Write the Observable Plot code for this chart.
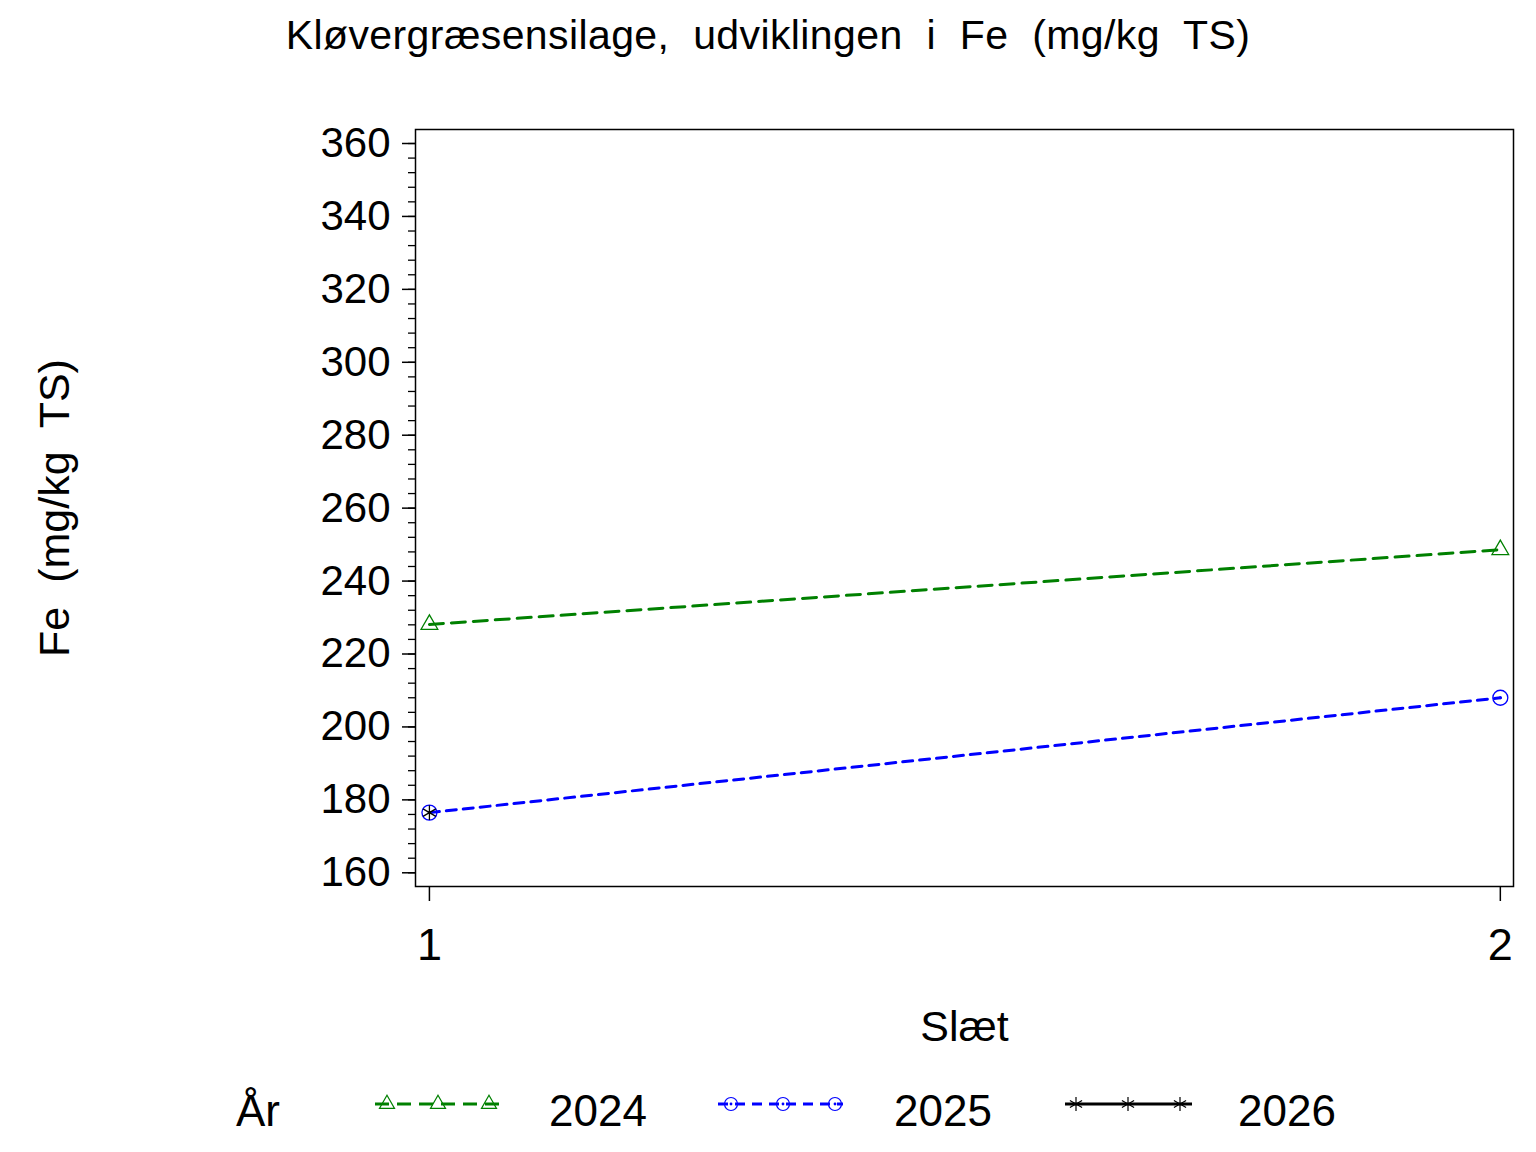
<!DOCTYPE html>
<html>
<head>
<meta charset="utf-8">
<script src="https://cdn.jsdelivr.net/npm/d3@7"></script>
<script src="https://cdn.jsdelivr.net/npm/@observablehq/plot@0.6"></script>
<style>
  html, body { margin: 0; padding: 0; background: white; }
  #wrap { position: relative; width: 1536px; height: 1152px; font-family: "Liberation Sans", Arial, sans-serif; }
  #title { position: absolute; top: 15px; left: 0; width: 1536px; text-align: center; font-size: 41px; line-height: 1; word-spacing: 12px; letter-spacing: 0.4px; color: black; white-space: nowrap; }
  #chart { position: absolute; top: 80px; left: 0; }
  #legend { position: absolute; top: 1060px; left: 0; }
</style>
</head>
<body>
<div id="wrap">
  <div id="title">Kløvergræsensilage, udviklingen i Fe (mg/kg TS)</div>
  <div id="chart"></div>
  <div id="legend"></div>
</div>
<script>
// ---- data ----
const slaet = [1, 2];
const years = ["2024", "2025", "2026"];
const fe2024 = [228.1, 248.6];
const fe2025 = [176.5, 208.0];
const fe2026 = [176.5];
const yTicks = [160, 180, 200, 220, 240, 260, 280, 300, 320, 340, 360];
const yMinorTicks = d3.range(160, 361, 4);
const xTicks = [1, 2];
const yLabel = "Fe\u00a0 (mg/kg\u00a0 TS)";
const xLabel = "Slæt";
const legendTitle = "År";

const colors = {"2024": "#008000", "2025": "#0000ff", "2026": "#000000"};

const toRows = (year, vals) => vals.map((v, i) => ({year, slaet: slaet[i], fe: v}));
const r2024 = toRows("2024", fe2024);
const r2025 = toRows("2025", fe2025);
const r2026 = toRows("2026", fe2026);

const chart = Plot.plot({
  width: 1536,
  height: 990,
  marginTop: 49,
  marginBottom: 184,
  marginLeft: 415,
  marginRight: 23,
  style: {fontFamily: "Liberation Sans, Arial, sans-serif", background: "white", color: "black"},
  x: {type: "linear", domain: [0.987, 2.0123]},
  y: {domain: [156.24, 363.84]},
  marks: [
    Plot.frame({stroke: "black", strokeWidth: 1.5}),
    Plot.axisY({ticks: yMinorTicks, tickSize: 7, text: null, label: null, strokeWidth: 1.3}),
    Plot.axisY({ticks: yTicks, tickSize: 13, tickPadding: 12, fontSize: 42, label: null, strokeWidth: 1.5, tickFormat: d => String(d)}),
    Plot.axisX({ticks: xTicks, tickSize: 15, tickPadding: 27, fontSize: 45, label: null, strokeWidth: 1.5, tickFormat: d => String(d)}),
    Plot.line(r2024, {x: "slaet", y: "fe", stroke: colors["2024"], strokeWidth: 3, strokeDasharray: "14,8"}),
    Plot.line(r2025, {x: "slaet", y: "fe", stroke: colors["2025"], strokeWidth: 3, strokeDasharray: "10,7"}),
    Plot.line(r2026, {x: "slaet", y: "fe", stroke: colors["2026"], strokeWidth: 3}),
    Plot.dot(r2024, {x: "slaet", y: "fe", symbol: "triangle", r: 6.2, stroke: colors["2024"], strokeWidth: 1.3}),
    Plot.dot(r2025, {x: "slaet", y: "fe", symbol: "circle", r: 7.5, stroke: colors["2025"], strokeWidth: 1.3}),
    Plot.dot(r2025, {x: "slaet", y: "fe", r: 1.5, fill: colors["2025"], stroke: null}),
    Plot.dot(r2026, {x: "slaet", y: "fe", symbol: "asterisk", r: 7, stroke: colors["2026"], strokeWidth: 1.3}),
    Plot.text([yLabel], {frameAnchor: "left", textAnchor: "middle", rotate: -90, dx: -360, fontSize: 43, fill: "black"}),
    Plot.text([xLabel], {frameAnchor: "bottom", textAnchor: "middle", dy: 154, fontSize: 43, fill: "black"})
  ]
});
document.getElementById("chart").appendChild(chart);

// ---- legend ----
const legendSpec = [
  {year: "2024", x0: 375, x1: 505, marks: [387, 438, 489], textX: 549, symbol: d3.symbolTriangle, size: 98, dash: "14,8"},
  {year: "2025", x0: 718, x1: 843, marks: [731, 783, 835], textX: 894, symbol: d3.symbolCircle, size: Math.PI * 6.5 * 6.5, dash: "10,7"},
  {year: "2026", x0: 1065, x1: 1192, marks: [1076, 1128, 1180], textX: 1238, symbol: d3.symbolAsterisk, size: 139, dash: null}
];
const lg = d3.select("#legend").append("svg").attr("width", 1536).attr("height", 92)
  .style("font-family", "Liberation Sans, Arial, sans-serif");
const ly = 44, lb = 66;
lg.append("text").attr("x", 236).attr("y", lb).attr("font-size", 44).text(legendTitle);
for (const s of legendSpec) {
  const c = colors[s.year];
  lg.append("line").attr("x1", s.x0).attr("x2", s.x1).attr("y1", ly).attr("y2", ly)
    .attr("stroke", c).attr("stroke-width", 3).attr("stroke-dasharray", s.dash);
  for (const mx of s.marks) {
    lg.append("path").attr("d", d3.symbol(s.symbol, s.size)()).attr("transform", `translate(${mx},${ly})`)
      .attr("fill", "none").attr("stroke", c).attr("stroke-width", 1.2);
    if (s.year === "2025") lg.append("circle").attr("cx", mx).attr("cy", ly).attr("r", 1.4).attr("fill", c);
  }
  lg.append("text").attr("x", s.textX).attr("y", lb).attr("font-size", 44).text(s.year);
}
</script>
</body>
</html>
